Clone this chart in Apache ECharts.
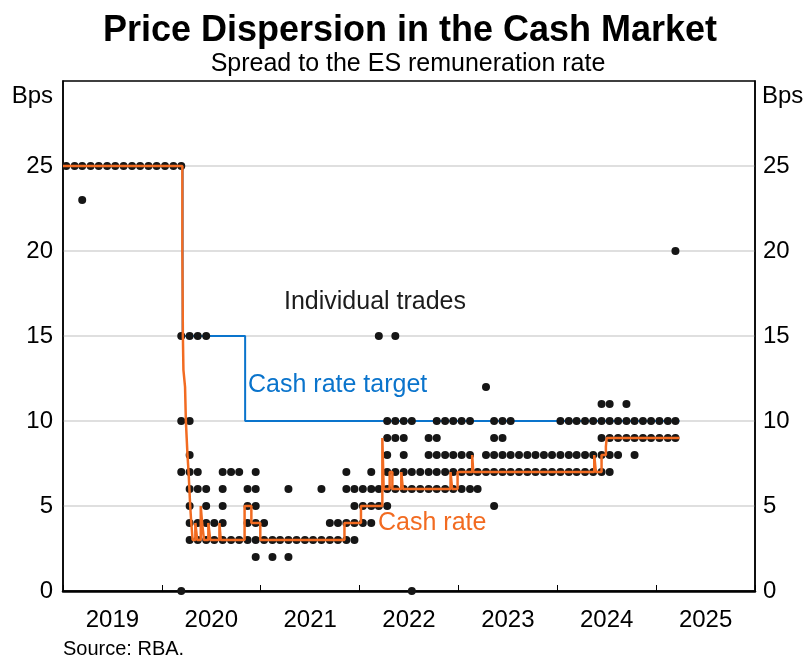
<!DOCTYPE html>
<html lang="en">
<head>
<meta charset="UTF-8">
<title>Price Dispersion in the Cash Market</title>
<script src="https://cdn.jsdelivr.net/npm/echarts@6/dist/echarts.min.js"></script>
<style>
    html, body { margin: 0; padding: 0; background: #fff; }
    #chart { width: 807px; height: 659px; }
</style>
</head>
<body>
<div id="chart"></div>
<script>
// x axis labels (one per calendar year)
var years = ['2019', '2020', '2021', '2022', '2023', '2024', '2025'];

// individual trades, one list of spreads (bps) per month, starting Jan 2019
var tradeStartYear = 2019;
var trades = [
    [25], [25], [25, 23], [25], [25], [25], [25], [25], [25], [25], [25], [25],        // 2019
    [25], [25], [25, 15, 10, 7, 0], [15, 10, 8, 7, 6, 5, 4, 3], [15, 7, 6, 4, 3],
    [15, 6, 5, 4, 3], [4, 3], [7, 6, 5, 4, 3], [7, 3], [7, 3], [6, 5, 4, 3],
    [7, 6, 5, 4, 3, 2],                                                                  // 2020
    [4, 3], [3, 2], [3], [6, 3, 2], [3], [3], [3], [6, 3], [4, 3], [4, 3],
    [7, 6, 4, 3], [6, 5, 4, 3],                                                          // 2021
    [6, 5, 4], [7, 6, 5, 4], [15, 6, 5], [10, 9, 8, 7, 6, 5], [15, 10, 9, 7, 6],
    [10, 9, 8, 7, 6], [10, 7, 6, 0], [7, 6], [9, 8, 7, 6], [10, 9, 8, 7, 6],
    [10, 8, 7, 6], [10, 8, 7, 6],                                                        // 2022
    [10, 8, 7, 6], [10, 8, 7, 6], [7, 6], [12, 8, 7], [10, 9, 8, 7, 5], [10, 9, 8, 7],
    [10, 8, 7], [8, 7], [8, 7], [8, 7], [8, 7], [8, 7],                                  // 2023
    [10, 8, 7], [10, 8, 7], [10, 8, 7], [10, 8, 7], [10, 8, 7], [11, 10, 9, 8, 7],
    [11, 10, 9, 8, 7], [10, 9, 8], [11, 10, 9], [10, 9, 8], [10, 9], [10, 9],            // 2024
    [10, 9], [10, 9], [20, 10, 9]                                                        // 2025
];

// cash rate target less ES rate (step changes)
var targetDates = ['2019-01-01', '2020-03-18', '2020-11-04', '2025-03-28'];
var targetSpread = [25, 15, 10, 10];

// cash rate less ES rate (step changes)
var cashDates = [
    '2019-01-01', '2020-03-17', '2020-03-19', '2020-03-21', '2020-03-24', '2020-03-27',
    '2020-03-30', '2020-04-02', '2020-04-05', '2020-04-09', '2020-04-12', '2020-04-15',
    '2020-04-19', '2020-04-24', '2020-05-04', '2020-05-11', '2020-05-24', '2020-05-29',
    '2020-06-05', '2020-06-21', '2020-06-28', '2020-08-01', '2020-08-06', '2020-11-02',
    '2020-11-27', '2020-12-30', '2021-11-06', '2022-01-06', '2022-03-26', '2022-03-31',
    '2022-04-22', '2022-05-02', '2022-06-04', '2022-06-10', '2022-12-03', '2022-12-09',
    '2022-12-29', '2023-02-21', '2023-02-25', '2024-05-17', '2024-05-23', '2024-06-13',
    '2024-06-29', '2024-07-02', '2025-03-28'
];
var cashSpread = [
    25, 20, 15, 13, 12.5, 12,
    10, 9, 8, 7, 6, 5,
    4, 3, 4, 3, 5, 4,
    3, 4, 3, 4, 3, 5,
    4, 3, 4, 5, 9, 6,
    7, 6, 7, 6, 7, 6,
    7, 8, 7, 8, 7, 8,
    8.5, 9, 9
];

var fontFamily = '"Liberation Sans", Arial, sans-serif';
var DAY = 24 * 3600 * 1000;

var tradePoints = [];
trades.forEach(function (list, i) {
    var t = Date.UTC(tradeStartYear, i, 13);
    list.forEach(function (v) { tradePoints.push([t, v]); });
});
var targetPoints = targetDates.map(function (d, i) { return [Date.parse(d), targetSpread[i]]; });
var cashPoints = cashDates.map(function (d, i) { return [Date.parse(d), cashSpread[i]]; });

var chart = echarts.init(document.getElementById('chart'));
var option = {
    animation: false,
    textStyle: { fontFamily: fontFamily },
    grid: {
        left: 63, right: 52, top: 81, bottom: 68,
        show: true, borderColor: '#000', borderWidth: 1.5
    },
    xAxis: [
        {
            type: 'value',
            min: Date.UTC(2019, 0, 1),
            max: Date.UTC(2026, 0, 1),
            interval: 365.25 * DAY,
            axisLine: { show: true, lineStyle: { color: '#000', width: 2.5 } },
            axisTick: { show: true, inside: true, length: 6, lineStyle: { color: '#000', width: 1 } },
            axisLabel: { show: false },
            splitLine: { show: false }
        },
        {
            type: 'category',
            position: 'bottom',
            data: years,
            boundaryGap: true,
            axisLine: { show: false },
            axisTick: { show: false },
            axisLabel: { color: '#000', fontSize: 24, margin: 17, fontFamily: fontFamily },
            splitLine: { show: false }
        }
    ],
    yAxis: [
        {
            type: 'value', min: 0, max: 30, interval: 5,
            axisLine: { show: true, lineStyle: { color: '#000', width: 1.5 } },
            axisTick: { show: false },
            axisLabel: {
                color: '#000', fontSize: 24, margin: 10, fontFamily: fontFamily,
                formatter: function (v) { return v === 30 ? '' : v; }
            },
            splitLine: {
                show: true, showMinLine: false, showMaxLine: false,
                lineStyle: { color: '#d4d4d4', width: 1.5 }
            }
        },
        {
            type: 'value', min: 0, max: 30, interval: 5, position: 'right',
            axisLine: { show: true, lineStyle: { color: '#000', width: 1.5 } },
            axisTick: { show: false },
            axisLabel: {
                color: '#000', fontSize: 24, margin: 8, fontFamily: fontFamily,
                formatter: function (v) { return v === 30 ? '' : v; }
            },
            splitLine: { show: false }
        }
    ],
    series: [
        {
            name: 'Cash rate target',
            type: 'line',
            step: 'end',
            data: targetPoints,
            showSymbol: false,
            lineStyle: { color: '#0a74cc', width: 2 },
            z: 2
        },
        {
            name: 'Individual trades',
            type: 'scatter',
            data: tradePoints,
            symbolSize: 8,
            itemStyle: { color: '#161616', opacity: 1 },
            z: 3
        },
        {
            name: 'Cash rate',
            type: 'line',
            step: 'end',
            data: cashPoints,
            showSymbol: false,
            lineStyle: { color: '#f26b21', width: 2.5 },
            z: 4
        }
    ],
    graphic: [
        { type: 'text', x: 410, y: 31, style: { text: 'Price Dispersion in the Cash Market', fill: '#000', font: 'bold 36px ' + fontFamily, textAlign: 'center', textVerticalAlign: 'middle' } },
        { type: 'text', x: 408, y: 64, style: { text: 'Spread to the ES remuneration rate', fill: '#000', font: '25px ' + fontFamily, textAlign: 'center', textVerticalAlign: 'middle' } },
        { type: 'text', x: 53, y: 96, style: { text: 'Bps', fill: '#000', font: '24px ' + fontFamily, textAlign: 'right', textVerticalAlign: 'middle' } },
        { type: 'text', x: 762, y: 96, style: { text: 'Bps', fill: '#000', font: '24px ' + fontFamily, textAlign: 'left', textVerticalAlign: 'middle' } },
        { type: 'text', x: 375, y: 302, style: { text: 'Individual trades', fill: '#1c1c1c', font: '25px ' + fontFamily, textAlign: 'center', textVerticalAlign: 'middle' } },
        { type: 'text', x: 248, y: 385, style: { text: 'Cash rate target', fill: '#0a74cc', font: '25px ' + fontFamily, textAlign: 'left', textVerticalAlign: 'middle' } },
        { type: 'text', x: 378, y: 523, style: { text: 'Cash rate', fill: '#f26b21', font: '25px ' + fontFamily, textAlign: 'left', textVerticalAlign: 'middle' } },
        { type: 'text', x: 63, y: 649, style: { text: 'Source: RBA.', fill: '#000', font: '20px ' + fontFamily, textAlign: 'left', textVerticalAlign: 'middle' } }
    ]
};
chart.setOption(option);
</script>
</body>
</html>
